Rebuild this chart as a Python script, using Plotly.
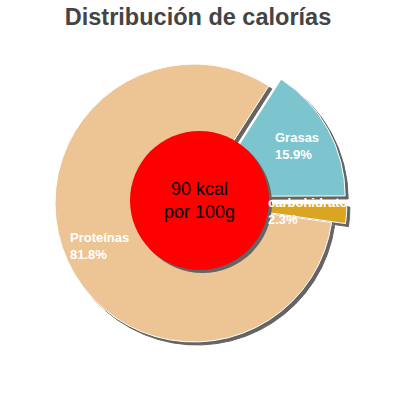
import math
import plotly.graph_objects as go

# ---- data ----
labels = ["Grasas", "carbohidratos", "Proteínas"]
values = [15.9, 2.3, 81.8]
colors = ["#7cc4ce", "#daa520", "#edc594"]
pulls = [0.1, 0.1, 0.0]
kcal = 90
center_text = f"{kcal} kcal<br>por 100g"
title_text = "Distribución de calorías"

# ---- layout constants (px) ----
W = H = 400
CX, CY, R = 194, 203, 139          # pie centre / radius
ROT = 32.6                          # start angle of first slice
SH = 3                              # shadow offset
RC_X, RC_Y, RC_R = 199.5, 200.5, 69.5  # red disc
LABEL_R = 104

maxpull = max(pulls)
half = R * (1 + maxpull)


def px2x(x):
    return x / W


def px2y(y):
    return 1 - y / H


def dom(cx, cy, h):
    return dict(x=[px2x(cx - h), px2x(cx + h)], y=[px2y(cy + h), px2y(cy - h)])


fig = go.Figure()
# shadow of pie
fig.add_trace(go.Pie(labels=labels, values=values, pull=pulls, sort=False,
                     direction="clockwise", rotation=ROT, textinfo="none",
                     hoverinfo="skip", showlegend=False,
                     marker=dict(colors=["#646464"] * len(values), line=dict(color="#646464", width=1)),
                     domain=dom(CX + SH, CY + SH, half)))
# main pie
fig.add_trace(go.Pie(labels=labels, values=values, pull=pulls, sort=False,
                     direction="clockwise", rotation=ROT, textinfo="none",
                     showlegend=False,
                     marker=dict(colors=colors, line=dict(color="white", width=1)),
                     domain=dom(CX, CY, half)))
# shadow of red disc
fig.add_trace(go.Pie(values=[1], labels=["s"], sort=False, textinfo="none", hoverinfo="skip",
                     showlegend=False, marker=dict(colors=["#646464"], line=dict(width=0)),
                     domain=dom(RC_X + SH, RC_Y + SH, RC_R)))
# red disc with text
fig.add_trace(go.Pie(values=[1], labels=["kcal"], sort=False, textinfo="text",
                     text=[center_text], textposition="inside",
                     insidetextorientation="horizontal", hoverinfo="skip",
                     showlegend=False,
                     textfont=dict(size=18, color="black", family="Liberation Sans, Arial"),
                     marker=dict(colors=["#ff0000"], line=dict(width=0)),
                     domain=dom(RC_X, RC_Y, RC_R)))

# slice labels computed from the data
total = sum(values)
cum = 0
annotations = []
for lab, v, p in zip(labels, values, pulls):
    mid = math.radians(ROT + (cum + v / 2) / total * 360)
    cum += v
    pp = p * R
    sx = CX + pp * math.sin(mid)
    sy = CY - pp * math.cos(mid)
    lx = sx + LABEL_R * math.sin(mid)
    ly = sy - LABEL_R * math.cos(mid)
    annotations.append(dict(x=px2x(lx), y=px2y(ly), xref="paper", yref="paper",
                            text=f"{lab}<br>{v}%", showarrow=False, align="left",
                            xanchor="center", yanchor="middle",
                            font=dict(size=13, color="white", family="Liberation Sans, Arial",
                                      weight="bold")))

fig.update_layout(
    width=W, height=H, margin=dict(l=0, r=0, t=0, b=0),
    paper_bgcolor="white", plot_bgcolor="white",
    title=dict(text=f"<b>{title_text}</b>", x=px2x(198), xanchor="center",
               y=px2y(17), yref="container", yanchor="middle",
               font=dict(size=23.5, color="#444444", family="Liberation Sans, Arial")),
    annotations=annotations,
)
fig.write_html("out.html", config={"displayModeBar": False},
               post_script="document.body.style.margin='0px';")
